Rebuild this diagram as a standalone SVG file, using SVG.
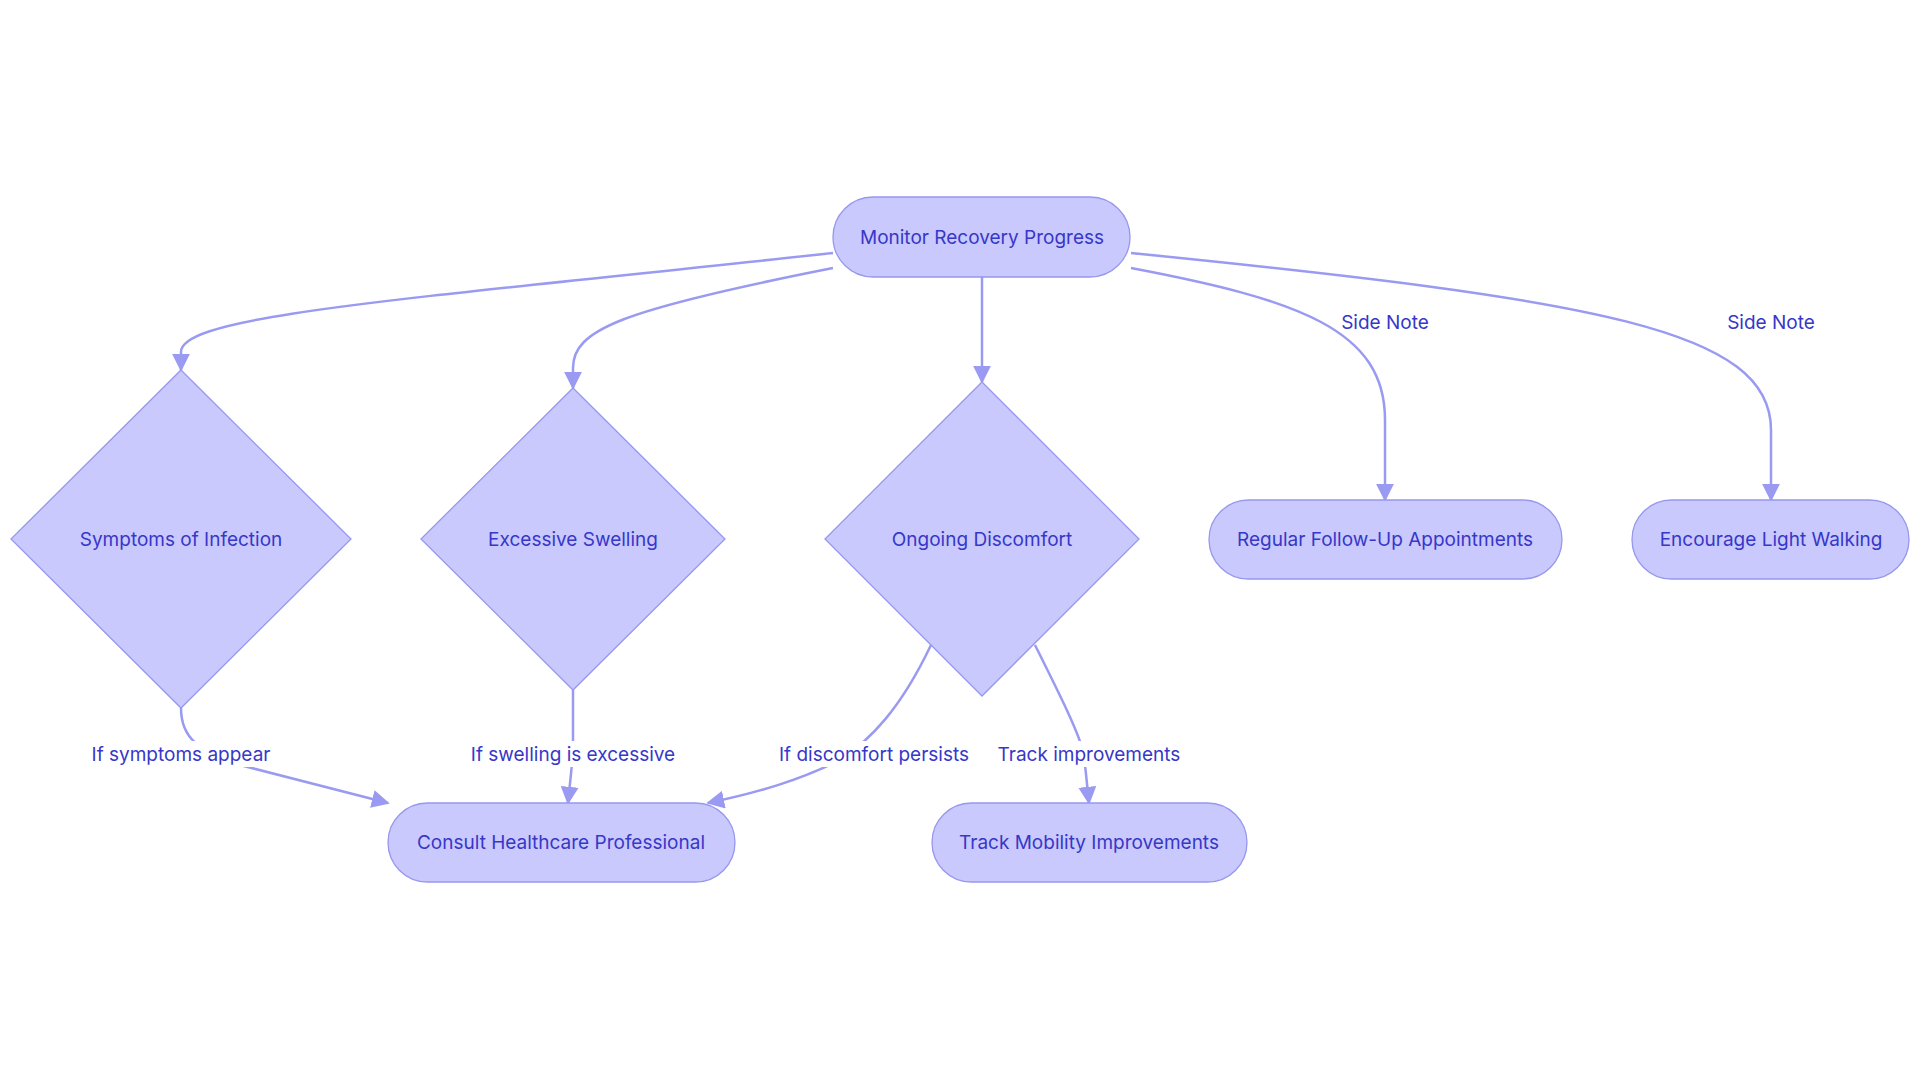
<svg xmlns="http://www.w3.org/2000/svg" width="1920" height="1083" viewBox="0 0 1920 1083">
<style>
.n{fill:#c9c9fd;stroke:#9797ef;stroke-width:1.3}
.t{font-family:Inter,"Liberation Sans",sans-serif;font-size:19px;fill:#3737c8;text-anchor:middle;dominant-baseline:central}
.e{fill:none;stroke:#9a9af2;stroke-width:2.5}
.lb{fill:#ffffff}
</style>
<defs><marker id="a" viewBox="0 0 10 10" refX="9" refY="5" markerWidth="7" markerHeight="7" orient="auto" markerUnits="userSpaceOnUse"><path d="M0,0L10,5L0,10z" fill="#9a9af2"/></marker>
<marker id="b" viewBox="0 0 10 10" refX="9" refY="5" markerWidth="18" markerHeight="18" orient="auto" markerUnits="userSpaceOnUse"><path d="M0,0L10,5L0,10z" fill="#9a9af2"/></marker></defs>
<rect width="1920" height="1083" fill="#fff"/>
<g id="edges">
<path class="e" marker-end="url(#b)" d="M833,253 C400,300 181,315 181,352 L181,370"/>
<path class="e" marker-end="url(#b)" d="M833,268 C620,310 573,330 573,368 L573,388"/>
<path class="e" marker-end="url(#b)" d="M982,277 L982,382"/>
<path class="e" marker-end="url(#b)" d="M1131,268 C1300,300 1385,330 1385,420 L1385,500"/>
<path class="e" marker-end="url(#b)" d="M1131,253 C1600,300 1771,330 1771,430 L1771,500"/>
<path class="e" marker-end="url(#b)" d="M181,708 C181,740 200,750 240,765 L388,803"/>
<path class="e" marker-end="url(#b)" d="M573,690 L573,754 L568,803"/>
<path class="e" marker-end="url(#b)" d="M931,645 C900,710 870,740 840,760 C800,780 760,792 708,803"/>
<path class="e" marker-end="url(#b)" d="M1035,645 C1060,695 1080,735 1084,755 L1089,803"/>
<rect class="lb" x="88" y="741" width="186" height="26"/><text class="t" x="181" y="754">If symptoms appear</text>
<rect class="lb" x="473" y="741" width="200" height="26"/><text class="t" x="573" y="754">If swelling is excessive</text>
<rect class="lb" x="777" y="741" width="194" height="26"/><text class="t" x="874" y="754">If discomfort persists</text>
<rect class="lb" x="996" y="741" width="186" height="26"/><text class="t" x="1089" y="754">Track improvements</text>
<text class="t" x="1385" y="322">Side Note</text>
<text class="t" x="1771" y="322">Side Note</text>
</g>
<g id="monitor"><rect class="n" x="833" y="197" width="297" height="80" rx="40"/><text class="t" x="982" y="237">Monitor Recovery Progress</text></g>
<g id="infection"><polygon class="n" points="181,370 351,539 181,708 11,539"/><text class="t" x="181" y="539">Symptoms of Infection</text></g>
<g id="swelling"><polygon class="n" points="573,388 725,539 573,690 421,539"/><text class="t" x="573" y="539">Excessive Swelling</text></g>
<g id="discomfort"><polygon class="n" points="982,382 1139,539 982,696 825,539"/><text class="t" x="982" y="539">Ongoing Discomfort</text></g>
<g id="followup"><rect class="n" x="1209" y="500" width="353" height="79" rx="39.5"/><text class="t" x="1385" y="539">Regular Follow-Up Appointments</text></g>
<g id="walking"><rect class="n" x="1632" y="500" width="277" height="79" rx="39.5"/><text class="t" x="1771" y="539">Encourage Light Walking</text></g>
<g id="consult"><rect class="n" x="388" y="803" width="347" height="79" rx="39.5"/><text class="t" x="561" y="842">Consult Healthcare Professional</text></g>
<g id="track"><rect class="n" x="932" y="803" width="315" height="79" rx="39.5"/><text class="t" x="1089" y="842">Track Mobility Improvements</text></g>
</svg>
